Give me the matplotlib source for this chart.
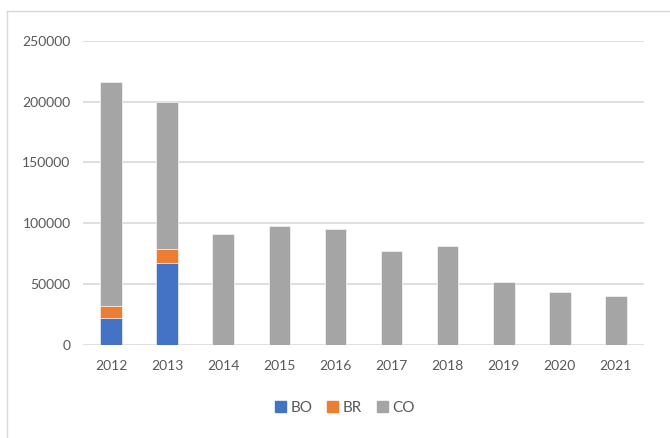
import matplotlib
matplotlib.use("Agg")
import matplotlib.pyplot as plt
from matplotlib.lines import Line2D
from matplotlib.patches import Patch
import numpy as np

plt.rcParams['font.family'] = ['Lato', 'DejaVu Sans']

years = ['2012', '2013', '2014', '2015', '2016', '2017', '2018', '2019', '2020', '2021']
bo = [21700, 67400, 0, 0, 0, 0, 0, 0, 0, 0]
br = [10400, 11300, 0, 0, 0, 0, 0, 0, 0, 0]
co = [184200, 121300, 91300, 97400, 95400, 77000, 81400, 51300, 43600, 39800]

c_bo = '#4472C4'
c_br = '#ED7D31'
c_co = '#A5A5A5'
txt = '#595959'

W, H = 670, 438
fig = plt.figure(figsize=(W / 100, H / 100), dpi=100)
# axes box in pixel coordinates
x0, x1 = 83, 644
y_top, y_bot = 40.7, 344.7
ax = fig.add_axes([x0 / W, 1 - y_bot / H, (x1 - x0) / W, (y_bot - y_top) / H])

x = np.arange(len(years))
bo_a = np.array(bo)
br_a = np.array(br)
co_a = np.array(co)
bw = 0.385
ax.bar(x, bo_a, bw, color=c_bo, edgecolor='white', linewidth=0.4, zorder=3)
ax.bar(x, br_a, bw, bottom=bo_a, color=c_br, edgecolor='white', linewidth=0.4, zorder=3)
ax.bar(x, co_a, bw, bottom=bo_a + br_a, color=c_co, edgecolor='white', linewidth=0.4, zorder=3)

ax.set_xlim(-0.5, len(years) - 0.5)
ax.set_ylim(0, 250000)
ax.set_yticks(range(0, 250001, 50000))
ax.set_xticks(x)
ax.set_xticklabels(years)
ax.yaxis.grid(True, color='#d9d9d9', linewidth=1.2, zorder=0)
ax.set_axisbelow(True)
for s in ax.spines.values():
    s.set_visible(False)
ax.tick_params(axis='both', length=0, labelsize=10, colors=txt)
ax.tick_params(axis='y', pad=9)
ax.tick_params(axis='x', pad=11)

handles = [Patch(color=c_bo, label='BO'), Patch(color=c_br, label='BR'), Patch(color=c_co, label='CO')]
fig.legend(handles=handles, loc='center', bbox_to_anchor=(345 / W, 1 - 408 / H), ncol=3,
           frameon=False, fontsize=11, labelcolor=txt, handlelength=0.7, handleheight=0.7,
           handletextpad=0.3, columnspacing=1.0)

# chart area border (left and top edges)
fig.add_artist(Line2D([7 / W, 7 / W], [0, 1 - 11 / H], color='#d9d9d9', linewidth=1,
                      transform=fig.transFigure))
fig.add_artist(Line2D([7 / W, 1], [1 - 11 / H, 1 - 11 / H], color='#d9d9d9', linewidth=1,
                      transform=fig.transFigure))

fig.savefig('out.png', dpi=100)
